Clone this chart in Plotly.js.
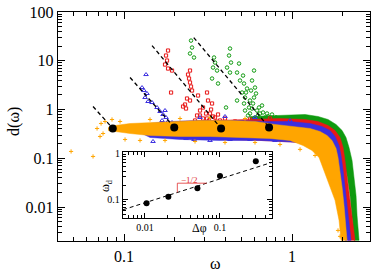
<!DOCTYPE html>
<html><head><meta charset="utf-8">
<script src="https://cdn.plot.ly/plotly-3.0.1.min.js"></script>
<style>html,body{margin:0;padding:0;background:#fff}#c{width:374px;height:274px}</style>
</head><body><div id="c"></div>
<script>
// ---- main panel: dense cores of each data set (outline) ----
const greenBandX = [0.562,0.739,0.973,1.195,1.428,1.638,1.828,1.986,2.095,2.184,2.276,2.339,2.404,2.437,2.505, 2.339,2.276,2.214,2.124,2.013,1.878,1.683,1.116,0.562];
const greenBandY = [0.719,0.7535,0.790,0.790,0.719,0.624,0.493,0.371,0.267,0.166,0.0901,0.0444,0.0173,0.00673,0.00207, 0.00207,0.00673,0.0173,0.0444,0.0901,0.159,0.232,0.255,0.255];
const redBandX = [0.2154,0.3726,0.602,0.848,1.195,1.428,1.638,1.803,1.931,2.013,2.067,2.124,2.184,2.245,2.307,2.371, 2.154,2.095,2.039,1.957,1.853,1.683,1.116,0.6446,0.2154];
const redBandY = [0.568,0.595,0.624,0.654,0.624,0.568,0.470,0.371,0.267,0.166,0.0901,0.0444,0.0219,0.00852,0.0042,0.00207, 0.00207,0.00531,0.0137,0.0351,0.0712,0.114,0.211,0.232,0.255];
const blueBandX = [0.1245,0.1878,0.2833,0.4901,0.691,0.973,1.280,1.509,1.683,1.803,1.905,1.957,2.013,2.067,2.124,2.184,2.245, 2.067,2.013,1.957,1.878,1.778,1.638,1.116,0.6446,0.3726,0.2154,0.1428,0.1245];
const blueBandY = [0.493,0.568,0.595,0.595,0.568,0.568,0.516,0.448,0.371,0.280,0.183,0.114,0.0562,0.0252,0.0108,0.00531,0.00207, 0.00207,0.00531,0.0137,0.0351,0.0712,0.114,0.211,0.232,0.232,0.243,0.267,0.338];
const orangeBandX = [0.0804,0.0885,0.1086,0.1428,0.1878,0.2833,0.4273,0.602,0.792,1.042,1.280,1.468,1.616,1.730,1.828,1.878,1.931,1.986,2.039,2.067,2.124, 1.957,1.905,1.803,1.683,1.571,1.448,1.315,1.163,0.973,0.7392,0.4901,0.3249,0.2154,0.1428,0.1086,0.0885,0.0804];
const orangeBandY = [0.428,0.470,0.516,0.541,0.568,0.595,0.595,0.568,0.493,0.448,0.408,0.354,0.293,0.232,0.159,0.104,0.0562,0.0252,0.0108,0.00531,0.00207, 0.00207,0.00531,0.0137,0.0252,0.0511,0.104,0.1445,0.183,0.232,0.255,0.267,0.280,0.280,0.293,0.322,0.354,0.371];

// ---- main panel: scattered points ----
const orangeX = [0.0484,0.0654,0.0730,0.0771,0.0750,0.0720,0.0691,0.0848,0.0947,0.1014,0.1245,0.1754,0.2646,0.399,0.602,0.848,0.1428,0.2154,0.3249,0.525,1.116,1.371,1.571,1.730,1.828,1.878,1.931];
const orangeY = [0.138,0.109,0.516,0.568,0.322,0.280,0.408,0.624,0.568,0.243,0.232,0.232,0.221,0.211,0.211,0.192,0.624,0.654,0.686,0.654,0.152,0.114,0.0712,0.0351,0.0173,0.00331,0.0025];
const blueX = [0.1352,0.1280,0.1315,0.1370,0.1334,0.1390,0.1468,0.1572,0.1638,0.1707,0.1778,0.1684,0.1828,0.1931,0.1754,0.1488,0.2096,0.2339,0.2610,0.2953,0.3249,0.4273,0.5620,0.792,0.2833,0.399,0.602,0.973];
const blueY = [5.21,2.82,2.45,2.13,1.762,1.459,1.391,1.099,0.910,0.790,0.686,0.595,0.568,0.541,0.954,0.221,0.280,0.255,0.243,0.267,0.232,0.243,0.243,0.232,0.686,0.719,0.686,0.595];
const redX = [0.1828,0.1778,0.1803,0.1754,0.1828,0.1931,0.1905,0.2470,0.2404,0.2437,0.2470,0.2505,0.2540,0.2371,0.2470,0.2307,0.2339,0.2758,0.3119,0.3162,0.3341,0.2953,0.2833,0.3249,0.348,0.3119,0.3627,0.3726,0.2720,0.3034,0.3341,0.2646,0.2245,0.399,0.4578,0.5620,0.7392,0.2833,0.2953,0.3076,0.3206,0.3387,0.3529,0.3296,0.2873,0.3162,0.3434];
const redY = [16.2,12.8,10.1,8.36,6.92,6.30,2.23,6.30,5.21,4.32,3.58,2.96,2.45,1.680,1.529,1.266,1.048,1.936,2.23,1.529,1.328,1.099,0.954,0.828,0.686,0.654,0.790,0.595,0.7535,0.541,0.493,0.595,1.152,0.654,0.568,0.624,0.654,0.7535,0.654,0.828,0.595,0.719,0.568,1.0,0.493,0.470,0.448];
const greenX = [0.2505,0.2540,0.2470,0.2610,0.3434,0.348,0.3387,0.3578,0.3341,0.3627,0.4273,0.4217,0.4334,0.4103,0.4273,0.4835,0.4707,0.4901,0.4047,0.4707,0.5179,0.5397,0.578,0.594,0.602,0.525,0.5620,0.594,0.5546,0.619,0.6446,0.691,0.7392,0.602,0.5620,0.5179,0.504,0.6105,0.586,0.636,0.710,0.7814,0.6627,0.525,0.547,0.578,0.6275,0.672,0.720,0.760,0.803,0.6627,0.532,0.570,0.511];
const greenY = [25.9,18.65,14.07,11.65,11.65,9.19,7.25,6.30,4.32,3.41,17.8,12.8,9.19,7.25,5.73,8.76,5.73,3.93,1.099,1.529,3.41,2.69,3.93,6.30,2.82,1.762,1.529,1.762,1.099,0.954,0.828,0.686,0.654,0.686,0.828,1.328,2.23,2.13,1.328,1.099,0.828,0.595,0.595,0.954,0.7535,1.048,0.7535,0.868,0.719,0.790,0.686,1.208,2.23,2.45,4.97];

// crossover points and omega^-4 guide lines
const omegaD = [0.0857,0.199,0.378,0.730];
const dAtOmegaD = [0.41,0.43,0.41,0.43];
const guideStartX = [0.0654,0.1086,0.1468,0.260];
const guideStartY = [1.15,4.53,20.5,29.9];

// ---- inset ----
const dPhi = [0.0105,0.0205,0.05,0.1,0.3];
const omegaDInset = [0.084,0.116,0.173,0.314,0.638];
const fitX = [0.0051,0.49];
const fitY = [0.0617,0.605];
const slopeX = [0.027,0.027,0.0665];
const slopeY = [0.142,0.222,0.222];

const xTickVals = [0.1,1], xTickText = ['0.1','1'];
const yTickVals = [0.01,0.1,1,10,100], yTickText = ['0.01','0.1','1','10','100'];
const insetXTickVals = [0.01,0.1], insetXTickText = ['0.01','0.1'];
const insetYTickVals = [0.1], insetYTickText = ['0.1'];
const insetTopLabel = '1';

function decadeMinors(lo, hi){ const out=[]; for(let e=lo;e<=hi;e++){for(let m=2;m<=9;m++){out.push(m*Math.pow(10,e));}} return out; }

const COL = {orange:'#ffa500', blue:'#3b2fe0', red:'#e81818', green:'#0f9a0f'};
const traces = [];
function band(x,y,c){ traces.push({x:x,y:y,type:'scatter',mode:'lines',fill:'toself',fillcolor:c,line:{width:0.5,color:c},hoverinfo:'skip',showlegend:false}); }
function pts(x,y,c,sym,sz){ traces.push({x:x,y:y,type:'scatter',mode:'markers',marker:{symbol:sym,size:sz,color:c,line:{color:c,width:1}},hoverinfo:'skip',showlegend:false}); }

band(greenBandX,greenBandY,COL.green); pts(greenX,greenY,COL.green,'circle-open',3.5);
band(redBandX,redBandY,COL.red); pts(redX,redY,COL.red,'square-open',3.2);
band(blueBandX,blueBandY,COL.blue); pts(blueX,blueY,COL.blue,'triangle-up-open',4);
band(orangeBandX,orangeBandY,COL.orange); pts(orangeX,orangeY,COL.orange,'cross-thin',3);

const gx=[], gy=[];
for(let i=0;i<omegaD.length;i++){ gx.push(guideStartX[i],omegaD[i],null); gy.push(guideStartY[i],dAtOmegaD[i],null); }
traces.push({x:gx,y:gy,type:'scatter',mode:'lines',line:{color:'#000',width:1.3,dash:'4px,3px'},hoverinfo:'skip',showlegend:false});
traces.push({x:omegaD,y:dAtOmegaD,type:'scatter',mode:'markers',marker:{color:'#000',size:8},hoverinfo:'skip',showlegend:false});

// inset traces
traces.push({x:fitX,y:fitY,xaxis:'x2',yaxis:'y2',type:'scatter',mode:'lines',line:{color:'#000',width:1,dash:'4px,3px'},hoverinfo:'skip',showlegend:false});
traces.push({x:slopeX,y:slopeY,xaxis:'x2',yaxis:'y2',type:'scatter',mode:'lines',line:{color:'#e03030',width:0.8},hoverinfo:'skip',showlegend:false});
traces.push({x:dPhi,y:omegaDInset,xaxis:'x2',yaxis:'y2',type:'scatter',mode:'markers',marker:{color:'#000',size:6},hoverinfo:'skip',showlegend:false});

const FONT = 'Liberation Serif, Times New Roman, serif';
const axBase = {type:'log',showline:true,linecolor:'#000',linewidth:1.3,mirror:'ticks',ticks:'inside',tickcolor:'#000',tickwidth:1,showgrid:false,zeroline:false,tickmode:'array'};

function ann(text,x,y,size,extra){ return Object.assign({text:text,xref:'paper',yref:'paper',x:x,y:y,xanchor:'center',yanchor:'middle',showarrow:false,font:{size:size,family:FONT,color:'#000'}},extra||{}); }

const layout = {
  width:374,height:274,margin:{l:58,r:4,t:12,b:33},
  paper_bgcolor:'#fff',plot_bgcolor:'#fff',showlegend:false,hovermode:false,
  font:{family:FONT,color:'#000'},
  xaxis:Object.assign({},axBase,{domain:[0,1],range:[-1.393,0.464],ticklen:7,tickvals:xTickVals,ticktext:xTickText,tickfont:{size:16,family:FONT},
    minor:{tickmode:'array',tickvals:decadeMinors(-2,0),ticks:'inside',ticklen:4,tickcolor:'#000',tickwidth:1,showgrid:false}}),
  yaxis:Object.assign({},axBase,{domain:[0,1],range:[-2.697,2.0],ticklen:7,tickvals:yTickVals,ticktext:yTickText,tickfont:{size:16,family:FONT},
    minor:{tickmode:'array',tickvals:decadeMinors(-3,1),ticks:'inside',ticklen:4,tickcolor:'#000',tickwidth:1,showgrid:false}}),
  xaxis2:Object.assign({},axBase,{anchor:'y2',domain:[0.2083,0.6859],range:[-2.293,-0.307],ticklen:5,tickvals:insetXTickVals,ticktext:insetXTickText,tickfont:{size:10,family:FONT},
    minor:{tickmode:'array',tickvals:decadeMinors(-3,-1),ticks:'inside',ticklen:3,tickcolor:'#000',tickwidth:1,showgrid:false}}),
  yaxis2:Object.assign({},axBase,{anchor:'x2',domain:[0.1004,0.3886],range:[-1.383,0],ticklen:5,tickvals:insetYTickVals,ticktext:insetYTickText,tickfont:{size:10,family:FONT},
    minor:{tickmode:'array',tickvals:decadeMinors(-2,-1),ticks:'inside',ticklen:3,tickcolor:'#000',tickwidth:1,showgrid:false}}),
  annotations:[
    ann('d(ω)',-0.141,0.52,16,{textangle:-90}),
    ann('ω',0.506,-0.10,16),
    ann('Δφ',0.455,0.057,12),
    ann('ω<sub>d</sub>',0.154,0.240,12,{textangle:-90}),
    ann('−1/2',0.420,0.268,9,{font:{size:9,family:FONT,color:'#e03030'}}),
    ann(insetTopLabel,0.190,0.383,10)
  ]
};
Plotly.newPlot('c',traces,layout,{displayModeBar:false,staticPlot:true});
</script></body></html>
